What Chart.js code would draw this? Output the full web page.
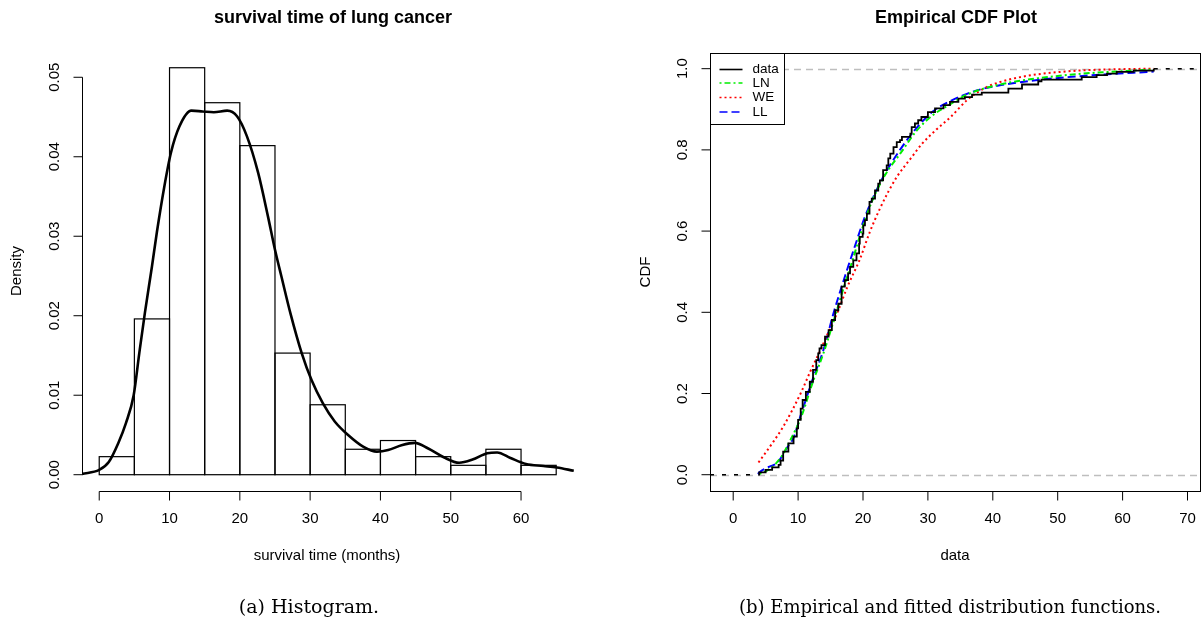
<!DOCTYPE html>
<html>
<head>
<meta charset="utf-8">
<script src="https://cdn.jsdelivr.net/npm/chart.js@4.4.1/dist/chart.umd.min.js"></script>
<style>
  html, body { margin: 0; padding: 0; background: #fff; }
  #wrap { position: relative; width: 1202px; height: 619px; overflow: hidden; }
  canvas { position: absolute; top: 0; }
  #histChart { left: 0; }
  #cdfChart { left: 601px; }
</style>
</head>
<body>
<div id="wrap">
  <canvas id="histChart" width="620" height="619" style="width:620px;height:619px"></canvas>
  <canvas id="cdfChart" width="601" height="619" style="width:601px;height:619px"></canvas>
</div>
<script>
// ---- histogram (a) ----
const histBreaks = [0, 5, 10, 15, 20, 25, 30, 35, 40, 45, 50, 55, 60, 65];
const histDensity = [0.00227, 0.0196, 0.0512, 0.0468, 0.0414, 0.0153, 0.0088, 0.0032, 0.0043, 0.00227, 0.00118, 0.0032, 0.00118];

const densX = [-2.45, 0, 1.36, 2.72, 3.8, 4.9, 5.7, 6.5, 7.5, 8.2, 9.25, 10.2, 11.4, 13.1, 14.7, 16.3, 18.2, 19.6, 21.0, 22.6, 24.0, 25.0, 25.9, 27.2, 28.8, 30.2, 31.8, 33.5, 35.4, 37.6, 39.5, 41.1, 43.0, 44.9, 46.8, 49.0, 51.2, 53.1, 55.2, 56.6, 58.5, 60.7, 63.2, 65.1, 67.5];
const densY = [0.0001, 0.0006, 0.0016, 0.0040, 0.0065, 0.0100, 0.0153, 0.0204, 0.0262, 0.0305, 0.0362, 0.0405, 0.0438, 0.0458, 0.0457, 0.0456, 0.0458, 0.0451, 0.0426, 0.0380, 0.0325, 0.0283, 0.0250, 0.0203, 0.0153, 0.0119, 0.0090, 0.0067, 0.0050, 0.0035, 0.0029, 0.0031, 0.0037, 0.0040, 0.0033, 0.0022, 0.0015, 0.0019, 0.0027, 0.0028, 0.0021, 0.00135, 0.0011, 0.0009, 0.0005];

const histXTicks = [0, 10, 20, 30, 40, 50, 60];
const histYTicks = [0, 0.01, 0.02, 0.03, 0.04, 0.05];

// ---- empirical / fitted CDF (b) ----
const ecdfX = [3.9, 4.0, 5.0, 6.0, 7.0, 7.3, 7.7, 8.5, 9.3, 9.8, 10.0, 10.4, 10.7, 11.2, 11.8, 12.3, 12.8, 13.1, 13.3, 13.6, 14.15, 14.7, 15.2, 15.7, 16.2, 16.7, 17.2, 17.7, 18.0, 18.5, 19.0, 19.4, 19.5, 19.95, 20.05, 20.3, 20.6, 21.0, 21.35, 21.85, 22.35, 22.6, 23.1, 23.65, 23.9, 24.2, 24.7, 25.2, 25.7, 26.0, 27.3, 27.5, 28.0, 28.5, 29.0, 30.0, 31.1, 32.4, 33.4, 34.7, 35.7, 36.8, 38.3, 42.4, 44.5, 47.0, 47.5, 53.7, 56.0, 57.6, 59.1, 61.7, 64.8];
const ecdfY = [0, 0.006, 0.012, 0.018, 0.024, 0.035, 0.057, 0.077, 0.094, 0.114, 0.135, 0.163, 0.184, 0.204, 0.229, 0.258, 0.282, 0.299, 0.311, 0.319, 0.340, 0.356, 0.381, 0.405, 0.421, 0.463, 0.479, 0.496, 0.512, 0.528, 0.545, 0.569, 0.586, 0.594, 0.614, 0.627, 0.643, 0.672, 0.680, 0.700, 0.717, 0.725, 0.750, 0.762, 0.779, 0.791, 0.807, 0.819, 0.824, 0.832, 0.840, 0.856, 0.865, 0.873, 0.881, 0.893, 0.902, 0.910, 0.918, 0.926, 0.930, 0.936, 0.941, 0.951, 0.961, 0.969, 0.973, 0.979, 0.984, 0.988, 0.992, 0.995, 1.0];

const lnX = [4.05, 5.6, 6.6, 7.5, 8.8, 10.5, 12.2, 13.9, 15.6, 17.3, 18.0, 19.8, 21.35, 23.4, 25.7, 28.3, 30.8, 33.4, 36.0, 38.6, 41.1, 43.7, 48.8, 54.0, 59.1, 64.8];
const lnY = [0.002, 0.014, 0.028, 0.046, 0.085, 0.143, 0.225, 0.299, 0.385, 0.475, 0.508, 0.602, 0.672, 0.738, 0.790, 0.848, 0.886, 0.912, 0.936, 0.951, 0.961, 0.969, 0.980, 0.988, 0.993, 0.998];

const weX = [3.9, 6.0, 7.7, 9.1, 10.5, 11.9, 13.3, 14.7, 16.2, 17.6, 19.5, 21.1, 22.6, 24.0, 25.2, 27.4, 29.1, 31.3, 33.5, 36.0, 38.6, 41.1, 45.2, 50.4, 55.5, 60.6, 64.8];
const weY = [0.030, 0.077, 0.118, 0.159, 0.204, 0.255, 0.302, 0.352, 0.405, 0.463, 0.530, 0.600, 0.655, 0.700, 0.733, 0.780, 0.815, 0.850, 0.881, 0.922, 0.951, 0.967, 0.982, 0.992, 0.997, 0.999, 1.0];

const llX = [3.8, 4.13, 5.6, 6.7, 7.47, 8.24, 9.27, 10.5, 12.2, 13.9, 15.5, 17.25, 18.8, 20.3, 22.9, 25.7, 28.3, 30.8, 33.4, 36.0, 38.6, 41.1, 46.3, 51.4, 56.5, 61.7, 64.8];
const llY = [0.002, 0.007, 0.020, 0.028, 0.044, 0.065, 0.090, 0.151, 0.233, 0.307, 0.400, 0.490, 0.565, 0.635, 0.727, 0.800, 0.855, 0.895, 0.920, 0.938, 0.951, 0.959, 0.971, 0.979, 0.985, 0.990, 0.993];

const cdfXTicks = [0, 10, 20, 30, 40, 50, 60, 70];
const cdfYTicks = [0, 0.2, 0.4, 0.6, 0.8, 1.0];
const cdfRefLines = [0, 1];

const SANS = '"Liberation Sans", Arial, sans-serif';
const SERIF = '"DejaVu Serif", serif';

function pts(xs, ys) {
  return xs.map((v, i) => ({ x: v, y: ys[i] }));
}

function rotText(ctx, text, x, y) {
  ctx.save();
  ctx.translate(x, y);
  ctx.rotate(-Math.PI / 2);
  ctx.textAlign = 'center';
  ctx.textBaseline = 'middle';
  ctx.fillText(text, 0, 0);
  ctx.restore();
}

// bottom axis + left axis in R style
function drawAxes(chart, xTicks, yTicks, yFmt, xLineAtBottom) {
  const { ctx, chartArea, scales: { x, y } } = chart;
  ctx.save();
  ctx.strokeStyle = '#000';
  ctx.fillStyle = '#000';
  ctx.lineWidth = 1;
  const ax = Math.round(chartArea.left) + 0.5;
  const ay = Math.round(chartArea.bottom) + 0.5;
  ctx.beginPath();
  ctx.moveTo(ax, y.getPixelForValue(yTicks[0]));
  ctx.lineTo(ax, y.getPixelForValue(yTicks[yTicks.length - 1]));
  yTicks.forEach(v => {
    const py = y.getPixelForValue(v);
    ctx.moveTo(ax, py);
    ctx.lineTo(ax - 9, py);
  });
  if (xLineAtBottom) {
    ctx.moveTo(x.getPixelForValue(xTicks[0]), ay);
    ctx.lineTo(x.getPixelForValue(xTicks[xTicks.length - 1]), ay);
  }
  xTicks.forEach(v => {
    const px = x.getPixelForValue(v);
    ctx.moveTo(px, ay);
    ctx.lineTo(px, ay + 9);
  });
  ctx.stroke();

  ctx.font = '15px ' + SANS;
  yTicks.forEach(v => rotText(ctx, yFmt(v), chartArea.left - 27, y.getPixelForValue(v)));
  ctx.textAlign = 'center';
  ctx.textBaseline = 'middle';
  xTicks.forEach(v => ctx.fillText(String(v), x.getPixelForValue(v), 519));
  ctx.restore();
}

const histDecor = {
  id: 'histDecor',
  afterDatasetDraw(chart, args) {
    if (args.index !== 1) return;
    const ctx = chart.ctx;
    ctx.save();
    ctx.strokeStyle = '#000';
    ctx.lineWidth = 1.2;
    args.meta.data.forEach(bar => {
      const p = bar.getProps(['x', 'y', 'base', 'width'], true);
      ctx.strokeRect(p.x - p.width / 2, p.y, p.width, p.base - p.y);
    });
    ctx.restore();
  },
  afterDraw(chart) {
    const ctx = chart.ctx;
    drawAxes(chart, histXTicks, histYTicks, v => v.toFixed(2), true);
    ctx.save();
    ctx.fillStyle = '#000';
    ctx.textAlign = 'center';
    ctx.textBaseline = 'middle';
    ctx.font = 'bold 18px ' + SANS;
    ctx.fillText('survival time of lung cancer', 333, 18);
    ctx.font = '15px ' + SANS;
    ctx.fillText('survival time (months)', 327, 556);
    rotText(ctx, 'Density', 17, 271);
    ctx.font = '19px ' + SERIF;
    ctx.textBaseline = 'alphabetic';
    ctx.fillText('(a) Histogram.', 309, 613);
    ctx.restore();
  }
};

new Chart(document.getElementById('histChart'), {
  type: 'bar',
  data: {
    datasets: [
      {
        type: 'line',
        label: 'density',
        data: pts(densX, densY),
        borderColor: '#000',
        borderWidth: 2.6,
        pointRadius: 0,
        cubicInterpolationMode: 'monotone',
        order: 1
      },
      {
        type: 'bar',
        label: 'histogram',
        data: histDensity.map((d, i) => ({ x: (histBreaks[i] + histBreaks[i + 1]) / 2, y: d })),
        backgroundColor: '#fff',
        borderWidth: 0,
        barPercentage: 1,
        categoryPercentage: 1,
        order: 2
      }
    ]
  },
  options: {
    responsive: false,
    animation: false,
    layout: { padding: { left: 82, right: 16, top: 52, bottom: 128 } },
    plugins: { legend: { display: false }, title: { display: false }, tooltip: { enabled: false } },
    scales: {
      x: { type: 'linear', min: -2.45, max: 71.8, offset: false, display: false },
      y: { type: 'linear', min: -0.00205, max: 0.05318, display: false }
    }
  },
  plugins: [histDecor]
});

const cdfDecor = {
  id: 'cdfDecor',
  beforeDatasetsDraw(chart) {
    const { ctx, chartArea, scales: { x, y } } = chart;
    ctx.save();
    ctx.strokeStyle = '#bebebe';
    ctx.lineWidth = 1.3;
    ctx.setLineDash([7, 5]);
    ctx.beginPath();
    cdfRefLines.forEach(v => {
      const py = Math.round(y.getPixelForValue(v)) + 0.5;
      ctx.moveTo(chartArea.left, py);
      ctx.lineTo(chartArea.right, py);
    });
    ctx.stroke();
    // dashed tails of the empirical cdf
    ctx.strokeStyle = '#000';
    ctx.lineWidth = 1.5;
    ctx.setLineDash([4, 8]);
    ctx.beginPath();
    ctx.moveTo(chartArea.left, y.getPixelForValue(0));
    ctx.lineTo(x.getPixelForValue(ecdfX[0]), y.getPixelForValue(0));
    ctx.moveTo(x.getPixelForValue(ecdfX[ecdfX.length - 1]), y.getPixelForValue(1));
    ctx.lineTo(chartArea.right, y.getPixelForValue(1));
    ctx.stroke();
    ctx.restore();
  },
  afterDraw(chart) {
    const { ctx, chartArea } = chart;
    drawAxes(chart, cdfXTicks, cdfYTicks, v => v.toFixed(1), false);
    ctx.save();
    ctx.strokeStyle = '#000';
    ctx.lineWidth = 1;
    ctx.strokeRect(Math.round(chartArea.left) + 0.5, Math.round(chartArea.top) + 0.5,
      Math.round(chartArea.right - chartArea.left) - 1, Math.round(chartArea.bottom - chartArea.top));

    // legend
    const lx = Math.round(chartArea.left) + 0.5, ly = Math.round(chartArea.top) + 0.5;
    ctx.fillStyle = '#fff';
    ctx.fillRect(lx, ly, 74, 71);
    ctx.strokeRect(lx, ly, 74, 71);
    ctx.font = '13.5px ' + SANS;
    ctx.textAlign = 'left';
    ctx.textBaseline = 'middle';
    const rows = [16, 29.5, 44, 58.5];
    chart.data.datasets.forEach((ds, i) => {
      const ry = ly + rows[i];
      ctx.strokeStyle = ds.borderColor;
      ctx.lineWidth = 1.6;
      ctx.setLineDash(ds.borderDash || []);
      ctx.beginPath();
      ctx.moveTo(lx + 9, ry);
      ctx.lineTo(lx + 32, ry);
      ctx.stroke();
      ctx.fillStyle = '#000';
      ctx.fillText(ds.label, lx + 42, ry);
    });
    ctx.setLineDash([]);

    ctx.fillStyle = '#000';
    ctx.textAlign = 'center';
    ctx.textBaseline = 'middle';
    ctx.font = 'bold 18px ' + SANS;
    ctx.fillText('Empirical CDF Plot', 355, 18);
    ctx.font = '15px ' + SANS;
    ctx.fillText('data', 354, 556);
    rotText(ctx, 'CDF', 45, 272);
    ctx.font = '18px ' + SERIF;
    ctx.textBaseline = 'alphabetic';
    ctx.fillText('(b) Empirical and fitted distribution functions.', 349, 613);
    ctx.restore();
  }
};

new Chart(document.getElementById('cdfChart'), {
  type: 'line',
  data: {
    datasets: [
      { label: 'data', data: pts(ecdfX, ecdfY), borderColor: '#000000', borderWidth: 1.8, stepped: true, pointRadius: 0 },
      { label: 'LN', data: pts(lnX, lnY), borderColor: '#00ee00', borderWidth: 2, borderDash: [2, 3, 6, 3], pointRadius: 0, cubicInterpolationMode: 'monotone' },
      { label: 'WE', data: pts(weX, weY), borderColor: '#ff0000', borderWidth: 2, borderDash: [2, 3], pointRadius: 0, cubicInterpolationMode: 'monotone' },
      { label: 'LL', data: pts(llX, llY), borderColor: '#0000ff', borderWidth: 2, borderDash: [8, 4], pointRadius: 0, cubicInterpolationMode: 'monotone' }
    ]
  },
  options: {
    responsive: false,
    animation: false,
    layout: { padding: { left: 109, right: 1, top: 53, bottom: 128 } },
    plugins: { legend: { display: false }, title: { display: false }, tooltip: { enabled: false } },
    scales: {
      x: { type: 'linear', min: -3.575, max: 72.08, display: false },
      y: { type: 'linear', min: -0.0401, max: 1.0386, display: false }
    }
  },
  plugins: [cdfDecor]
});
</script>
</body>
</html>
